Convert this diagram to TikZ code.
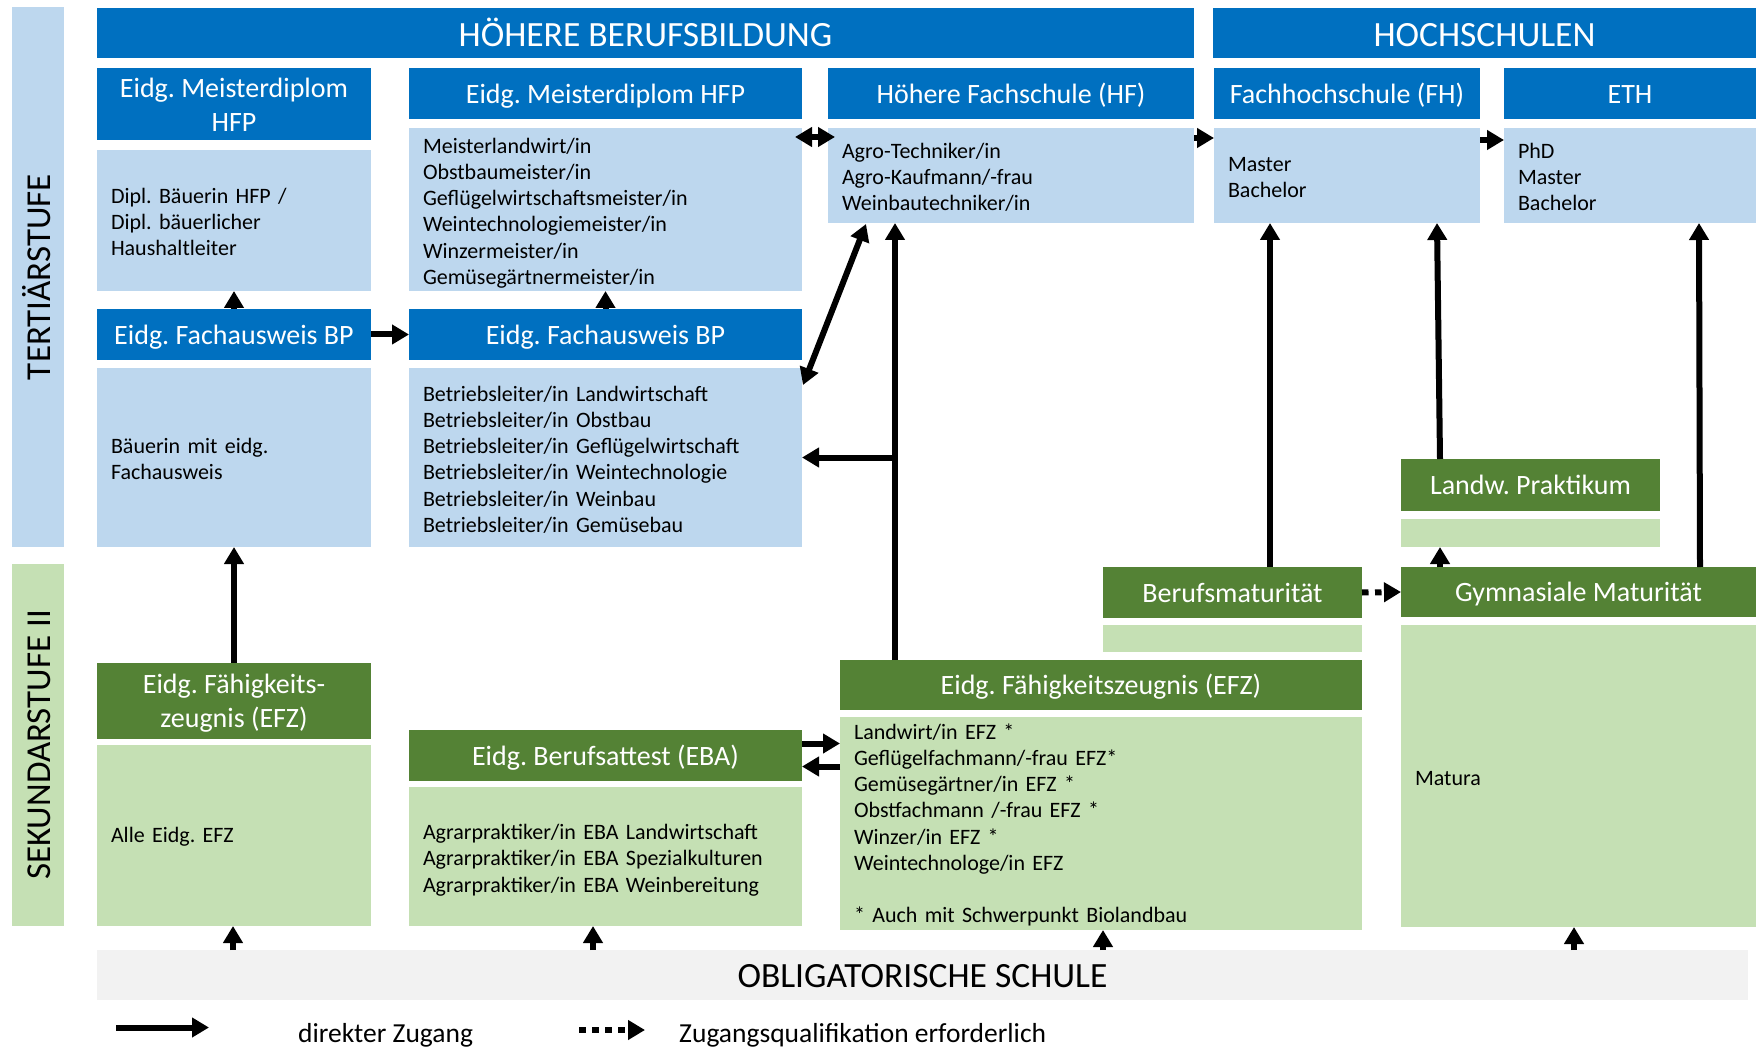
\documentclass[tikz,border=0pt]{standalone}
\usepackage{fontspec}
\setmainfont{Carlito}
\usetikzlibrary{arrows.meta,calc}
\definecolor{dblue}{HTML}{0070C0}
\definecolor{lblue}{HTML}{BDD7EE}
\definecolor{dgreen}{HTML}{548235}
\definecolor{lgreen}{HTML}{C5E0B4}
\definecolor{lgray}{HTML}{F2F2F2}
\newcommand\nodepth[1]{\raisebox{0pt}[\height][0pt]{#1}}
\frenchspacing
\tikzset{
  base/.style={anchor=north west, inner sep=0pt, outer sep=0pt},
  bighdr/.style={base, fill=dblue, text=white, font=\fontsize{35.5}{40}\selectfont, text height=27pt, text depth=0pt, align=center},
  hdr/.style={base, fill=dblue, text=white, font=\fontsize{28}{34}\selectfont, align=center},
  hdrone/.style={hdr, text height=19.6pt, text depth=0pt},
  ghdr/.style={hdr, fill=dgreen},
  ghdrone/.style={hdrone, fill=dgreen},
  bbox/.style={base, fill=lblue, font=\fontsize{22}{26.2}\selectfont, align=left, inner xsep=14pt, execute at begin node={\rule{0pt}{18.6pt}}},
  gbox/.style={bbox, fill=lgreen},
  sidebar/.style={rotate=90, inner sep=0pt, outer sep=0pt, font=\fontsize{35}{40}\selectfont, text height=25pt, text depth=0pt},
  arr/.style={line width=6pt, -{Triangle[length=17pt,width=19pt]}},
  darr/.style={line width=6pt, {Triangle[length=17pt,width=19pt]}-{Triangle[length=17pt,width=19pt]}},
  qarr/.style={arr, dash pattern=on 6.5pt off 6.5pt},
  legtext/.style={anchor=base west, inner sep=0pt, font=\fontsize{27.5}{32}\selectfont},
}
\begin{document}
\begin{tikzpicture}[x=1pt, y=-1pt]
\useasboundingbox (0,0) rectangle (1756,1048);

% side bars
\node[sidebar, fill=lblue, minimum width=540pt, minimum height=52pt] (tert) at (38,277) {TERTIÄRSTUFE};
\node[sidebar, fill=lgreen, minimum width=362pt, minimum height=52pt] (sek) at (38,745) {SEKUNDARSTUFE II};

% top headers
\node[bighdr, minimum width=1097pt, minimum height=50pt] (hbb) at (97,8) {HÖHERE BERUFSBILDUNG};
\node[bighdr, minimum width=543pt, minimum height=50pt] (hs) at (1213,8) {HOCHSCHULEN};

% second row headers
\node[hdr, minimum width=274pt, minimum height=72pt] (mdl) at (97,68) {\rule{0pt}{21.5pt}Eidg. Meisterdiplom\\HFP};
\node[hdrone, minimum width=393pt, minimum height=51pt] (mdr) at (409,68) {Eidg. Meisterdiplom HFP};
\node[hdrone, minimum width=366pt, minimum height=51pt] (hf) at (828,68) {Höhere Fachschule (HF)};
\node[hdrone, minimum width=266pt, minimum height=51pt] (fh) at (1214,68) {Fachhochschule (FH)};
\node[hdrone, minimum width=252pt, minimum height=51pt] (eth) at (1504,68) {ETH};

% content boxes tertiary
\node[bbox, text width=246pt, minimum height=141pt] (mdlc) at (97,150) {Dipl. Bäuerin HFP /\\Dipl. bäuerlicher\\Haushaltleiter};
\node[bbox, text width=365pt, minimum height=163pt] (mdrc) at (409,128) {Meisterlandwirt/in\\Obstbaumeister/in\\Geflügelwirtschaftsmeister/in\\Weintechnologiemeister/in\\Winzermeister/in\\\nodepth{Gemüsegärtnermeister/in}};
\node[bbox, text width=338pt, minimum height=95pt] (hfc) at (828,128) {Agro-Techniker/in\\Agro-Kaufmann/-frau\\\nodepth{Weinbautechniker/in}};
\node[bbox, text width=238pt, minimum height=95pt] (fhc) at (1214,128) {Master\\Bachelor};
\node[bbox, text width=224pt, minimum height=95pt] (ethc) at (1504,128) {PhD\\Master\\Bachelor};

\node[hdrone, minimum width=274pt, minimum height=51pt] (fal) at (97,309) {Eidg. Fachausweis BP};
\node[hdrone, minimum width=393pt, minimum height=51pt] (far) at (409,309) {Eidg. Fachausweis BP};
\node[bbox, text width=246pt, minimum height=179pt] (falc) at (97,368) {Bäuerin mit eidg.\\Fachausweis};
\node[bbox, text width=365pt, minimum height=179pt] (farc) at (409,368) {Betriebsleiter/in Landwirtschaft\\Betriebsleiter/in Obstbau\\Betriebsleiter/in Geflügelwirtschaft\\Betriebsleiter/in Weintechnologie\\Betriebsleiter/in Weinbau\\\nodepth{Betriebsleiter/in Gemüsebau}};

% secondary
\node[ghdrone, minimum width=259pt, minimum height=52pt] (lp) at (1401,459) {Landw. Praktikum};
\node[base, fill=lgreen, minimum width=259pt, minimum height=28pt] (lpc) at (1401,519) {};
\node[ghdrone, minimum width=259pt, minimum height=51pt] (bm) at (1103,567) {Berufsmaturität};
\node[base, fill=lgreen, minimum width=259pt, minimum height=27pt] (bmc) at (1103,625) {};
\node[ghdrone, minimum width=355pt, minimum height=50pt] (gm) at (1401,567) {Gymnasiale Maturität};
\node[gbox, text width=327pt, minimum height=302pt] (gmc) at (1401,625) {Matura};

\node[ghdr, minimum width=274pt, minimum height=76pt] (efzl) at (97,663) {Eidg. Fähigkeits-\\\nodepth{zeugnis (EFZ)}};
\node[gbox, text width=246pt, minimum height=181pt] (efzlc) at (97,745) {Alle Eidg. EFZ};
\node[ghdrone, minimum width=393pt, minimum height=51pt] (eba) at (409,730) {Eidg. Berufsattest (EBA)};
\node[gbox, text width=365pt, minimum height=139pt] (ebac) at (409,787) {Agrarpraktiker/in EBA Landwirtschaft\\Agrarpraktiker/in EBA Spezialkulturen\\\nodepth{Agrarpraktiker/in EBA Weinbereitung}};
\node[ghdrone, minimum width=522pt, minimum height=50pt] (efzm) at (840,660) {Eidg. Fähigkeitszeugnis (EFZ)};
\node[gbox, text width=494pt, minimum height=213pt] (efzmc) at (840,717) {Landwirt/in EFZ *\\Geflügelfachmann/-frau EFZ*\\Gemüsegärtner/in EFZ *\\Obstfachmann /-frau EFZ *\\Winzer/in EFZ *\\Weintechnologe/in EFZ\\\mbox{}\\{}* Auch mit Schwerpunkt Biolandbau};

% compulsory school
\node[base, fill=lgray, font=\fontsize{35.5}{40}\selectfont, text height=25pt, text depth=0pt, minimum width=1651pt, minimum height=50pt] (obl) at (97,950) {OBLIGATORISCHE SCHULE};

% arrows tertiary
\draw[arr] (fal.north) -- (mdlc.south);
\draw[arr] (far.north) -- (mdrc.south);
\draw[arr] (fal.east) -- (far.west);
\draw[darr] ($(mdrc.north east)+(-7,9)$) -- ($(hfc.north west)+(7,9)$);
\draw[arr] ($(hfc.north east)+(0,10)$) -- ($(fhc.north west)+(0,10)$);
\draw[arr] ($(fhc.north east)+(0,12)$) -- ($(ethc.north west)+(0,12)$);
\draw[darr] ($(hfc.south west)+(38,1)$) -- ($(farc.north east)+(1,17)$);

\coordinate (j) at ($(efzm.north west)+(55,0)$);
\draw[arr] (j) -- (j |- hfc.south);
\draw[arr] (j |- farc.east) -- (farc.east);

\coordinate (c9) at ($(bm.north west)+(167,0)$);
\draw[arr] (c9) -- (c9 |- fhc.south);
\draw[arr] ($(lp.north west)+(39,0)$) -- ($(fhc.south west)+(223,0)$);
\draw[arr] ($(gm.north west)+(299,0)$) -- ($(ethc.south west)+(195,0)$);
\draw[arr] ($(gm.north west)+(39,0)$) -- ($(lpc.south west)+(39,0)$);
\draw[qarr] (bm.east) -- (gm.west);

\draw[arr] (efzl.north) -- (falc.south);
\draw[arr] ($(eba.east)+(0,-12)$) -- ($(eba.east -| efzmc.west)+(0,-12)$);
\draw[arr] ($(eba.east -| efzmc.west)+(0,11)$) -- ($(eba.east)+(0,11)$);

% from compulsory school
\coordinate (o1) at ($(obl.north west)+(136,0)$);
\coordinate (o2) at ($(obl.north west)+(496,0)$);
\coordinate (o3) at ($(obl.north west)+(1006,0)$);
\coordinate (o4) at ($(obl.north west)+(1477,0)$);
\draw[arr] (o1) -- (o1 |- efzlc.south);
\draw[arr] (o2) -- (o2 |- ebac.south);
\draw[arr] (o3) -- (o3 |- efzmc.south);
\draw[arr] (o4) -- (o4 |- gmc.south);

% legend
\coordinate (la) at (116,1027.5);
\coordinate (lb) at (209,1027.5);
\coordinate (lc) at (579,1030);
\coordinate (ld) at (645,1030);
\draw[arr] (la) -- (lb);
\draw[qarr] (lc) -- (ld);
\node[legtext] (l1) at (298,1042) {direkter Zugang};
\node[legtext] (l2) at (679,1042) {Zugangsqualifikation erforderlich};
\end{tikzpicture}
\end{document}
